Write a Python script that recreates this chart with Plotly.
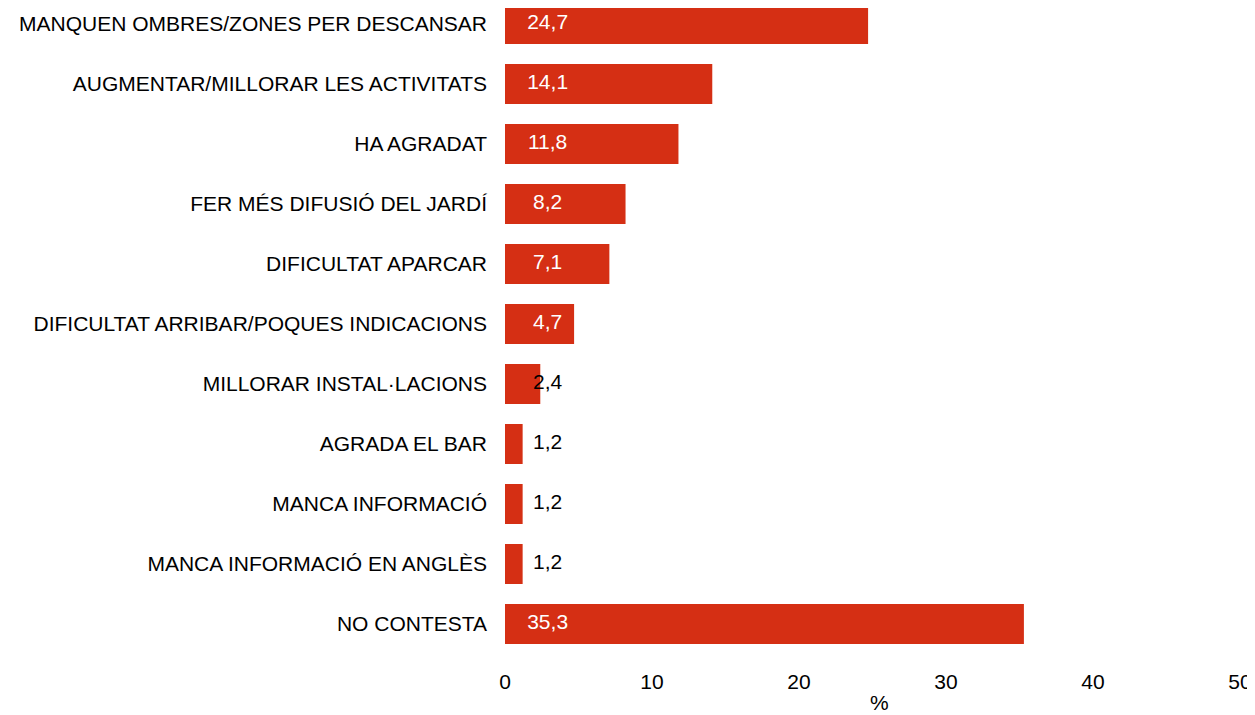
import plotly.graph_objects as go

categories = [
    "MANQUEN OMBRES/ZONES PER DESCANSAR",
    "AUGMENTAR/MILLORAR LES ACTIVITATS",
    "HA AGRADAT",
    "FER MÉS DIFUSIÓ DEL JARDÍ",
    "DIFICULTAT APARCAR",
    "DIFICULTAT ARRIBAR/POQUES INDICACIONS",
    "MILLORAR INSTAL·LACIONS",
    "AGRADA EL BAR",
    "MANCA INFORMACIÓ",
    "MANCA INFORMACIÓ EN ANGLÈS",
    "NO CONTESTA",
]
values = [24.7, 14.1, 11.8, 8.2, 7.1, 4.7, 2.4, 1.2, 1.2, 1.2, 35.3]
x_ticks = [0, 10, 20, 30, 40, 50]

BAR = "#D52F14"
FONT = "Liberation Sans, Arial, sans-serif"
FS = 21

labels = [f"{v:.1f}".replace(".", ",") for v in values]
label_colors = ["white" if v >= 3 else "black" for v in values]

# page has an 8px body margin; figure sized to fit the 1255x715 window
W, H = 1247, 707
L, R, T, B = 497, 15, 0, 61
plot_h = H - T - B
plot_w = W - L - R

fig = go.Figure()
fig.add_trace(go.Bar(
    y=categories, x=values, orientation="h",
    marker=dict(color=BAR, line=dict(width=0)),
    cliponaxis=False,
    hoverinfo="skip",
))
fig.add_trace(go.Scatter(
    y=categories, x=[2.9] * len(values), mode="text",
    text=labels, textposition="middle center",
    textfont=dict(family=FONT, size=FS, color=label_colors),
    cliponaxis=False,
    hoverinfo="skip",
))

fig.add_annotation(
    text="%", x=(879 - 8 - L) / plot_w, xref="paper",
    y=-(H - plot_h) / plot_h, yref="paper",
    showarrow=False, font=dict(family=FONT, size=FS, color="black"),
    xanchor="center", yanchor="bottom", borderpad=0,
)

fig.update_layout(
    width=W, height=H,
    margin=dict(l=L, r=R, t=T, b=B, pad=0),
    paper_bgcolor="white", plot_bgcolor="white",
    showlegend=False,
    bargap=0.333,
    font=dict(family=FONT, size=FS, color="black"),
    xaxis=dict(
        range=[0, 50], tickvals=x_ticks, ticktext=[str(t) for t in x_ticks],
        showgrid=False, zeroline=False, showline=False,
        ticklabelstandoff=13, automargin=False,
        tickfont=dict(size=FS),
    ),
    yaxis=dict(
        categoryorder="array", categoryarray=categories,
        range=[10.5, -16 / 60],
        showgrid=False, zeroline=False, showline=False,
        ticklabelstandoff=17, automargin=False,
        tickfont=dict(size=FS),
    ),
)

fig.write_html("out.html")
